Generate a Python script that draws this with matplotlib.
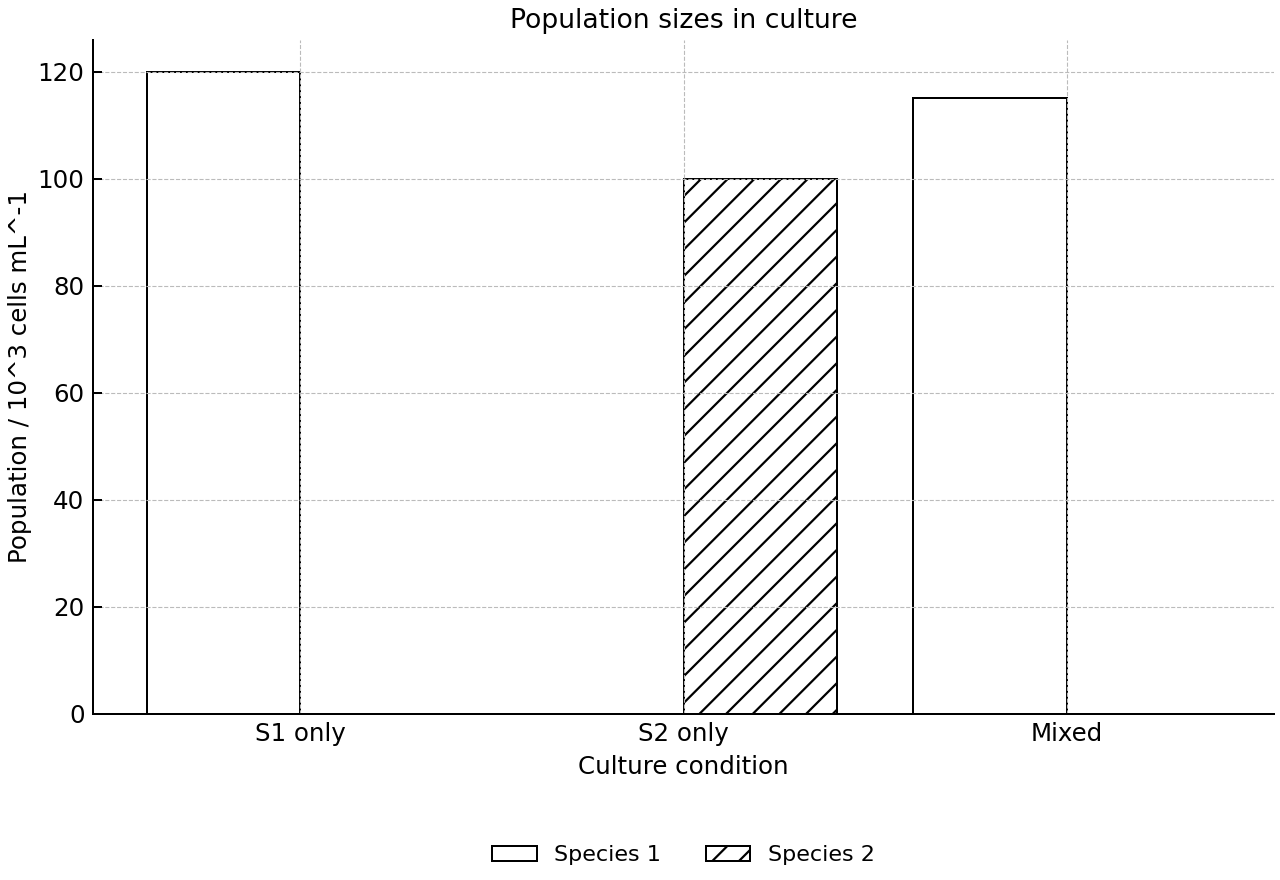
import numpy as np
import matplotlib
matplotlib.use("Agg")
import matplotlib.pyplot as plt

conditions = ["S1 only", "S2 only", "Mixed"]
species1 = [120, 0, 115]
species2 = [0, 100, 0]

x = np.arange(len(conditions))
w = 0.4

plt.rcParams['hatch.linewidth'] = 2.0
fig, ax = plt.subplots(figsize=(16, 11), dpi=80)
fig.subplots_adjust(left=0.073, right=0.995, top=0.955, bottom=0.189)

ax.bar(x - w / 2, species1, w, facecolor='white', edgecolor='black', linewidth=1.8, label='Species 1')
ax.bar(x + w / 2, species2, w, facecolor='white', edgecolor='black', linewidth=1.8, hatch='/', label='Species 2')

ax.set_xticks(x)
ax.set_xticklabels(conditions)
ax.tick_params(axis='both', direction='in', labelsize=22, width=1.8, length=8)
ax.tick_params(axis='y', pad=8)
ax.tick_params(axis='x', length=0, pad=7.5)
ax.grid(True, linestyle='--', color='#bbbbbb', linewidth=1.0)

for s in ['top', 'right']:
    ax.spines[s].set_visible(False)
for s in ['left', 'bottom']:
    ax.spines[s].set_linewidth(1.8)

ax.set_title('Population sizes in culture', fontsize=24, pad=10)
ax.set_xlabel('Culture condition', fontsize=22, labelpad=8)
ax.set_ylabel('Population / 10^3 cells mL^-1', fontsize=22, labelpad=5)

fig.legend(loc='lower center', ncol=2, frameon=False, fontsize=20,
           bbox_to_anchor=(0.534, -0.006), columnspacing=2.0)

fig.savefig('out.png')
